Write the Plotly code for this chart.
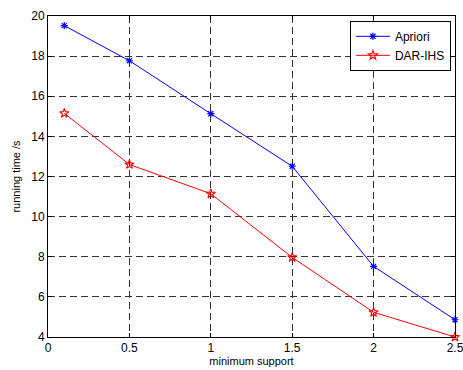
import plotly.graph_objects as go

x_support = [0.1, 0.5, 1.0, 1.5, 2.0, 2.5]
apriori = [19.52, 17.77, 15.13, 12.51, 7.52, 4.86]
dar_ihs = [15.15, 12.6, 11.14, 7.97, 5.23, 4.0]
x_ticks = [0, 0.5, 1, 1.5, 2, 2.5]
x_tick_labels = ["0", "0.5", "1", "1.5", "2", "2.5"]
y_ticks = [4, 6, 8, 10, 12, 14, 16, 18, 20]

FONT = "Liberation Sans, Arial, sans-serif"

fig = go.Figure()
fig.add_trace(go.Scatter(
    x=x_support, y=apriori, name="Apriori", mode="lines+markers",
    line=dict(color="#0000ff", width=1),
    marker=dict(symbol="asterisk-open", size=6, color="#0000ff",
                line=dict(color="#0000ff", width=1.2)),
    cliponaxis=False,
))
fig.add_trace(go.Scatter(
    x=x_support, y=dar_ihs, name="DAR-IHS", mode="lines+markers",
    line=dict(color="#ff0000", width=1),
    marker=dict(symbol="star-open", size=7, color="#ff0000",
                line=dict(color="#ff0000", width=1.1)),
    cliponaxis=False,
))

axis_common = dict(
    showline=True, linecolor="black", linewidth=1, mirror="ticks",
    ticks="inside", ticklen=4, tickcolor="black",
    showgrid=True, gridcolor="#333333", griddash="7px,4px", gridwidth=1,
    zeroline=False, automargin=False, ticklabeloverflow="allow",
    tickfont=dict(family=FONT, size=12, color="black"),
)

fig.update_xaxes(range=[0, 2.5], tickvals=x_ticks, ticktext=x_tick_labels,
                 title=dict(text="minimum support", standoff=2,
                            font=dict(family=FONT, size=11, color="black")),
                 **axis_common)
fig.update_yaxes(range=[4, 20], tickvals=y_ticks,
                 title=dict(text="running time /s", standoff=8,
                            font=dict(family=FONT, size=11, color="black")),
                 **axis_common)

fig.update_layout(
    width=463, height=370,
    margin=dict(l=48, r=8, t=16, b=33),
    paper_bgcolor="white", plot_bgcolor="white",
    showlegend=True,
    legend=dict(x=0.99, y=0.985, xanchor="right", yanchor="top",
                bgcolor="white", bordercolor="black", borderwidth=1,
                font=dict(family=FONT, size=12, color="black"),
                itemwidth=34, tracegroupgap=0),
)

fig.write_html("out.html",
               config={"displayModeBar": False},
               post_script="document.body.style.margin='0';document.body.style.overflow='hidden';")
